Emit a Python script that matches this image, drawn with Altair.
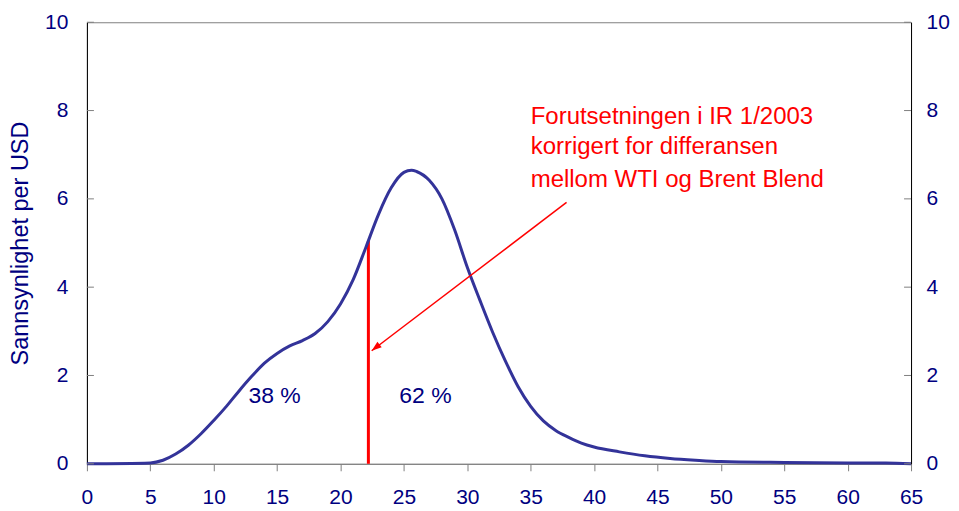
import altair as alt
import pandas as pd

# Curve data (USD per barrel vs probability density)
price = [0, 5, 6, 7, 8, 9, 10, 11, 12, 13, 14, 15, 16, 17, 18, 19, 20, 21, 22, 23,
         24, 25, 25.6, 26, 27, 28, 29, 30, 31, 32, 33, 34, 35, 36, 37, 38, 39, 40,
         42, 44, 46, 48, 50, 55, 60, 63, 65]
density = [0, 0.02, 0.08, 0.22, 0.42, 0.68, 0.98, 1.3, 1.65, 1.98, 2.28, 2.5, 2.67, 2.79,
           2.95, 3.22, 3.62, 4.17, 4.9, 5.65, 6.25, 6.6, 6.65, 6.62, 6.42, 6.0, 5.3, 4.45,
           3.7, 2.98, 2.33, 1.75, 1.3, 0.97, 0.75, 0.6, 0.47, 0.38, 0.27, 0.18, 0.12,
           0.08, 0.05, 0.03, 0.02, 0.02, 0.0]

# Assumption line
assump_x = [22.2]
assump_top = [5.05]

# Share labels
share_text = ["38 %", "62 %"]
share_x = [14.8, 26.7]
share_y = [1.54, 1.54]

# Red annotation lines
note_text = ["Forutsetningen i IR 1/2003", "korrigert for differansen", "mellom WTI og Brent Blend"]
note_x = [35.0, 35.0, 35.0]
note_y = [7.86, 7.18, 6.42]

# Arrow (from, to)
arrow_from = [37.83, 5.92]
arrow_to = [22.46, 2.56]

x_ticks = list(range(0, 70, 5))
y_ticks = [0, 2, 4, 6, 8, 10]

NAVY = "#000080"
CURVE = "#333399"
RED = "#ff0000"
FONT = "Liberation Sans"

W, H = 825, 442

xscale = alt.Scale(domain=[0, 65], nice=False, zero=False)
yscale = alt.Scale(domain=[0, 10], nice=False)

curve_df = pd.DataFrame({"x": price, "y": density})
vline_df = pd.DataFrame({"x": assump_x, "y0": [0] * len(assump_x), "y1": assump_top})
share_df = pd.DataFrame({"t": share_text, "x": share_x, "y": share_y})
note_df = pd.DataFrame({"t": note_text, "x": note_x, "y": note_y})
arrow_df = pd.DataFrame({"x": [arrow_from[0]], "y": [arrow_from[1]],
                         "x2": [arrow_to[0]], "y2": [arrow_to[1]]})
head_df = pd.DataFrame({"x": [arrow_to[0]], "y": [arrow_to[1]]})
ytick_df = pd.DataFrame({"y": y_ticks})

x_axis = alt.Axis(values=x_ticks, grid=False, domainColor="#808080", tickColor="#808080",
                  tickSize=7, labelColor=NAVY, labelFontSize=21, labelFont=FONT,
                  labelPadding=16, title=None, labelFlush=False)

y_left = alt.Axis(values=y_ticks, grid=False, domainColor="#000000", ticks=False,
                  labelColor=NAVY, labelFontSize=21, labelFont=FONT, labelPadding=19,
                  title="Sannsynlighet per USD", titleColor=NAVY, titleFontSize=23.5,
                  titleFont=FONT, titleFontWeight="normal", titlePadding=12, labelFlush=False)

y_right = alt.Axis(values=y_ticks, grid=False, domainColor="#000000", ticks=False,
                   labelColor=NAVY, labelFontSize=21, labelFont=FONT, labelPadding=15,
                   title=None, orient="right", labelFlush=False)

curve = alt.Chart(curve_df).mark_line(color=CURVE, strokeWidth=3, interpolate="monotone").encode(
    x=alt.X("x:Q", scale=xscale, axis=x_axis),
    y=alt.Y("y:Q", scale=yscale, axis=y_left),
)

vline = alt.Chart(vline_df).mark_rule(color=RED, strokeWidth=3).encode(
    x=alt.X("x:Q", scale=xscale),
    y=alt.Y("y0:Q", scale=yscale),
    y2="y1:Q",
)

shares = alt.Chart(share_df).mark_text(color=NAVY, fontSize=23, font=FONT).encode(
    x=alt.X("x:Q", scale=xscale), y=alt.Y("y:Q", scale=yscale), text="t:N"
)

notes = alt.Chart(note_df).mark_text(color=RED, fontSize=24, font=FONT, align="left").encode(
    x=alt.X("x:Q", scale=xscale), y=alt.Y("y:Q", scale=yscale), text="t:N"
)

arrow = alt.Chart(arrow_df).mark_rule(color=RED, strokeWidth=1.5).encode(
    x=alt.X("x:Q", scale=xscale), y=alt.Y("y:Q", scale=yscale), x2="x2:Q", y2="y2:Q"
)

head = alt.Chart(head_df).mark_point(
    shape="M0,0L-0.35,1L0.35,1Z", filled=True, color=RED, opacity=1, size=400, angle=232
).encode(x=alt.X("x:Q", scale=xscale), y=alt.Y("y:Q", scale=yscale))

left_ticks = alt.Chart(ytick_df).mark_rule(color="#808080", strokeWidth=1).encode(
    y=alt.Y("y:Q", scale=yscale), x=alt.value(0), x2=alt.value(7)
)

right_ticks = alt.Chart(ytick_df).mark_rule(color="#808080", strokeWidth=1).encode(
    y=alt.Y("y:Q", scale=yscale, axis=y_right), x=alt.value(W - 7), x2=alt.value(W)
)

main = alt.layer(vline, curve, shares, notes, arrow, head, left_ticks)

chart = alt.layer(main, right_ticks).resolve_scale(y="independent").properties(
    width=W, height=H,
    autosize=alt.AutoSizeParams(type="none"),
    padding={"left": 79, "top": 14, "right": 40, "bottom": 46},
).configure_view(stroke="#808080", strokeWidth=1)

chart.save("out.html", embed_options={"renderer": "svg", "actions": False})
